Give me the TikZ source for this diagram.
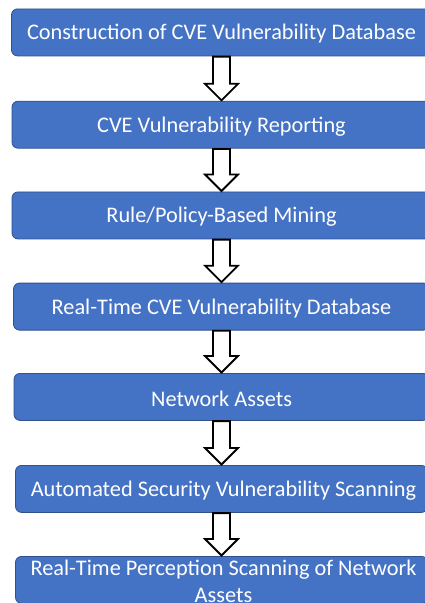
\documentclass[tikz,border=0pt]{standalone}
\usepackage{fontspec}
\setmainfont{Carlito}
\usetikzlibrary{calc}
\definecolor{boxblue}{HTML}{4472C4}
\definecolor{boxedge}{HTML}{2F528F}
\newcommand\blockdown[2]{%
  \draw[barrow] let \p1=(#1.south), \p2=(#2.north) in
    (\x1-8.5pt,\y1-0.3pt) -- (\x1+8.5pt,\y1-0.3pt) -- (\x1+8.5pt,\y2+17pt) -- (\x1+16.5pt,\y2+17pt)
    -- (\x1,\y2+0.5pt) -- (\x1-16.5pt,\y2+17pt) -- (\x1-8.5pt,\y2+17pt) -- cycle;}
\begin{document}
\begin{tikzpicture}[x=1pt,y=-1pt,
  box/.style={draw=boxedge, line width=0.8pt, fill=boxblue, rounded corners=6pt,
    minimum height=47pt, inner sep=0pt, anchor=north},
  boxtext/.style={text=white, align=center, inner sep=0pt, yshift=-1.5pt,
    font=\fontsize{22.3}{26.8}\selectfont},
  barrow/.style={draw=black, line width=1.8pt, fill=white, line join=miter}]
\useasboundingbox (0,0) rectangle (424,603);
\fill[white] (0,0) rectangle (424,603);
\node[box, minimum width=420pt] (b1) at (221.5,8.5) {};
\node[box, minimum width=419pt] (b2) at (221.5,100.8) {};
\node[box, minimum width=419pt] (b3) at (221.5,191.5) {};
\node[box, minimum width=416pt] (b4) at (221.5,282.7) {};
\node[box, minimum width=415pt] (b5) at (221.5,373) {};
\node[box, minimum width=412pt] (b6) at (221.5,465) {};
\node[box, minimum width=412pt] (b7) at (221.5,556) {};
\node[boxtext] (t1) at (b1.center) {Construction of CVE Vulnerability Database};
\node[boxtext] (t2) at (b2.center) {CVE Vulnerability Reporting};
\node[boxtext] (t3) at (b3.center) {Rule/Policy-Based Mining};
\node[boxtext] (t4) at (b4.center) {Real-Time CVE Vulnerability Database};
\node[boxtext] (t5) at (b5.center) {Network Assets};
\node[boxtext] (t6) at ([xshift=2pt]b6.center) {Automated Security Vulnerability Scanning};
\node[boxtext] (t7) at ([xshift=2pt]b7.center) {Real-Time Perception Scanning of Network\\Assets};
\blockdown{b1}{b2}
\blockdown{b2}{b3}
\blockdown{b3}{b4}
\blockdown{b4}{b5}
\blockdown{b5}{b6}
\blockdown{b6}{b7}
\end{tikzpicture}
\end{document}
